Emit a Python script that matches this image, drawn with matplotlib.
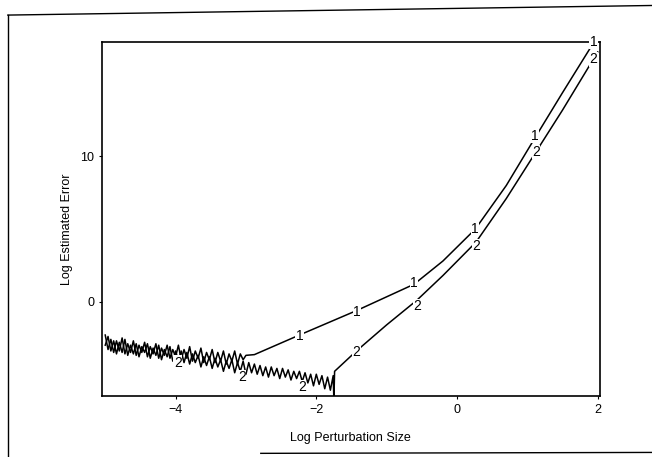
import matplotlib
matplotlib.use("Agg")
import matplotlib.pyplot as plt
from matplotlib.lines import Line2D
import numpy as np

plt.rcParams['font.family'] = ['Liberation Sans', 'DejaVu Sans']

# noisy part of curve 1, x from -5.0 to -3.0 step 0.04
noise1_x = np.round(np.arange(-5.0, -2.999, 0.04), 3)
noise1_y = [-2.3, -3.3, -2.6, -3.5, -2.7, -3.4, -2.5, -3.6, -2.9, -3.5,
            -2.7, -3.7, -3.0, -3.5, -2.8, -3.8, -3.1, -3.6, -2.9, -3.9,
            -3.2, -3.7, -3.0, -3.9, -3.3, -3.8, -3.0, -4.0, -3.3, -3.9,
            -3.1, -4.1, -3.4, -3.9, -3.2, -4.2, -3.5, -4.0, -3.3, -4.2,
            -3.5, -4.1, -3.4, -4.3, -3.6, -4.1, -3.4, -4.3, -3.6, -4.0, -3.7]
# smooth part of curve 1
smooth1_x = [-2.88, -2.24, -1.42, -0.61, -0.2, 0.26, 0.7, 1.11, 1.5, 2.0]
smooth1_y = [-3.65, -2.3, -0.6, 1.2, 2.8, 5.0, 8.0, 11.3, 14.4, 18.3]

# noisy part of curve 2, x from -5.0 to -1.76 step 0.04
noise2_x = np.round(np.arange(-5.0, -1.759, 0.04), 3)
noise2_y = [-3.0, -2.4, -3.4, -2.7, -3.6, -2.8, -3.5, -2.6, -3.7, -3.0,
            -3.6, -2.9, -3.8, -3.1, -3.5, -2.9, -3.9, -3.2, -3.7, -3.0,
            -4.0, -3.3, -3.8, -3.1, -4.1, -3.4,
            -4.1, -3.4, -4.2, -3.5, -4.3, -3.6, -4.2, -3.7, -4.5, -3.8,
            -4.4, -3.8, -4.6, -3.9, -4.5, -4.0, -4.8, -4.1, -4.6, -4.0,
            -4.9, -4.2, -4.8, -4.1, -5.0,
            -4.2, -4.9, -4.3, -5.0, -4.4, -5.1, -4.5, -5.2, -4.5, -5.1,
            -4.6, -5.3, -4.6, -5.2, -4.7, -5.4, -4.8, -5.3, -4.8, -5.5,
            -4.9, -5.6, -5.0, -5.8, -5.0, -5.7, -5.1, -6.0, -5.2, -6.1, -5.1]
# spike and smooth part of curve 2
smooth2_x = [-1.75, -1.74, -1.43, -1.0, -0.57, -0.2, 0.27, 0.7, 1.12, 1.5, 2.0]
smooth2_y = [-6.8, -4.8, -3.4, -1.6, 0.1, 1.8, 4.1, 7.1, 10.3, 13.2, 17.2]

# plot labels sitting on the curves
lab1_x = [-2.24, -1.42, -0.61, 0.26, 1.11, 1.94]
lab1_y = [-2.4, -0.7, 1.3, 5.0, 11.4, 17.9]
lab2_x = [-3.97, -3.06, -2.2, -1.43, -0.57, 0.27, 1.12, 1.94]
lab2_y = [-4.2, -5.2, -5.9, -3.5, -0.3, 3.8, 10.3, 16.7]

x1 = np.concatenate([noise1_x, smooth1_x])
y1 = np.concatenate([noise1_y, smooth1_y])
x2 = np.concatenate([noise2_x, smooth2_x])
y2 = np.concatenate([noise2_y, smooth2_y])

fig = plt.figure(figsize=(6.52, 4.57), dpi=100)
ax = fig.add_axes([0.156, 0.1335, 0.764, 0.775])

ax.plot(x1, y1, c='black', lw=1.1)
ax.plot(x2, y2, c='black', lw=1.1)

for xx, yy in zip(lab1_x, lab1_y):
    ax.text(xx, yy, '1', ha='center', va='center', fontsize=10,
            bbox=dict(fc='white', ec='none', pad=0.2))
for xx, yy in zip(lab2_x, lab2_y):
    ax.text(xx, yy, '2', ha='center', va='center', fontsize=10,
            bbox=dict(fc='white', ec='none', pad=0.2))

ax.set_xlim(-5.05, 2.03)
ax.set_ylim(-6.5, 17.9)
ax.set_xticks([-4, -2, 0, 2])
ax.set_yticks([0, 10])
ax.tick_params(length=2, width=0.8, labelsize=9, colors='black')
for s in ax.spines.values():
    s.set_linewidth(1.2)
ax.set_xlabel('Log Perturbation Size', fontsize=9, labelpad=12)
ax.set_ylabel('Log Estimated Error', fontsize=9)
ax.yaxis.set_label_coords(-0.058, 0.47)

# outer frame of the scanned page
fig.add_artist(Line2D([0.012, 1.0], [0.967, 0.988], color='black', lw=1.0))
fig.add_artist(Line2D([0.012, 0.012], [0.0, 0.967], color='black', lw=1.0))
fig.add_artist(Line2D([0.40, 1.0], [0.008, 0.010], color='black', lw=1.0))

fig.savefig('out.png', dpi=100)
